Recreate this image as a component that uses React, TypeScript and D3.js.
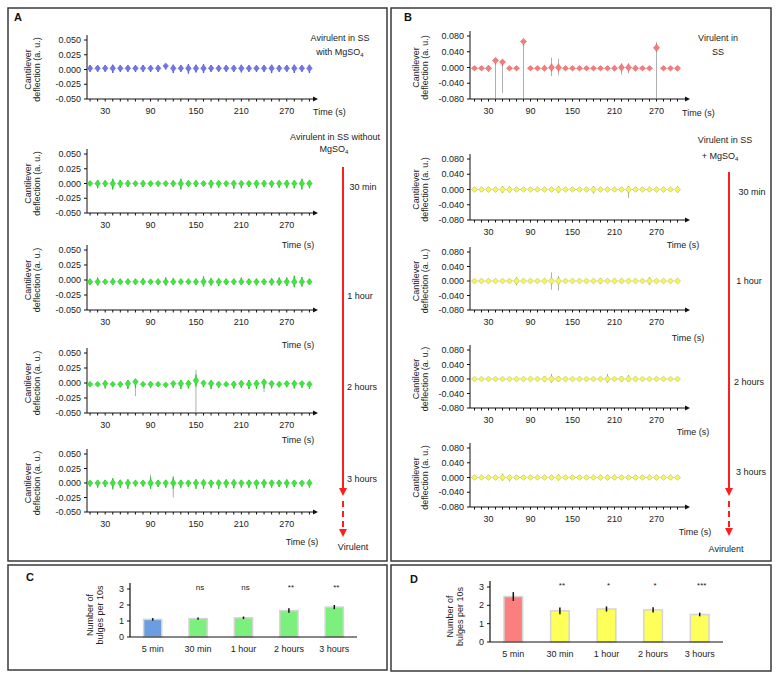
// Cantilever deflection traces (panels A, B) and bulge-rate bar charts (C, D).
import React from "react";
import * as d3 from "d3";

const FONT = "'Liberation Sans', Arial, sans-serif";

const TIMES = [10, 20, 30, 40, 50, 60, 70, 80, 90, 100, 110, 120, 130, 140, 150, 160, 170, 180, 190, 200, 210, 220, 230, 240, 250, 260, 270, 280, 290, 300];
const TIME_TICKS = [30, 90, 150, 210, 270];
// deflection values below are in 10^-3 a.u.
const A_Y_TICKS = [-50, -25, 0, 25, 50];
const B_Y_TICKS = [-80, -40, 0, 40, 80];

// Panel A: avirulent
const A1_MID = [2, 2, 2, 2, 2, 2, 2, 2, 2, 2, 6, 2, 2, 2, 2, 2, 2, 2, 2, 2, 2, 2, 2, 2, 2, 2, 2, 2, 2, 2];
const A1_HI = [7, 7, 7, 8, 7, 7, 7, 7, 7, 7, 9, 8, 7, 9, 8, 9, 7, 7, 7, 7, 8, 7, 7, 7, 8, 7, 7, 8, 7, 8];
const A1_LO = [-4, -4, -4, -6, -4, -4, -4, -4, -4, -4, 0, -6, -4, -7, -5, -6, -4, -4, -4, -4, -5, -4, -4, -4, -6, -4, -4, -6, -4, -6];

const A2_MID = [0, 0, 0, 0, 0, 0, 0, 0, 0, 0, 0, 0, 0, 0, 0, 0, 0, 0, 0, 0, 0, 0, 0, 0, 0, 0, 0, 0, 0, 0];
const A2_HI = [4, 6, 5, 8, 6, 5, 4, 5, 4, 4, 4, 5, 8, 5, 5, 4, 6, 5, 4, 5, 4, 4, 6, 5, 5, 5, 6, 5, 8, 6];
const A2_LO = [-4, -8, -6, -10, -7, -6, -5, -6, -5, -5, -5, -6, -10, -6, -6, -5, -8, -7, -5, -9, -8, -6, -8, -6, -7, -7, -8, -8, -10, -8];

const A3_MID = [-3, -3, -3, -3, -3, -3, -3, -3, -3, -3, -3, -3, -3, -3, -3, -3, -3, -3, -3, -3, -3, -3, -3, -3, -3, -3, -3, -3, -3, -3];
const A3_HI = [2, 4, 1, 3, 2, 2, 2, 3, 1, 2, 4, 3, 2, 2, 2, 6, 3, 3, 2, 2, 4, 2, 2, 2, 3, 4, 4, 7, 5, 2];
const A3_LO = [-8, -9, -7, -8, -7, -7, -8, -8, -7, -8, -9, -8, -7, -7, -8, -11, -9, -10, -8, -8, -8, -8, -9, -8, -9, -9, -10, -12, -11, -8];

const A4_MID = [-2, -2, -1, -2, -2, -1, 2, -2, -2, -2, -3, -1, -1, -1, 4, 0, -1, -2, -2, -2, -1, -2, -1, 1, -1, -2, -1, -1, -1, -2];
const A4_HI = [1, 1, 4, 1, 2, 5, 5, 1, 2, 1, 0, 3, 5, 5, 22, 3, 4, 2, 1, 3, 4, 5, 5, 6, 3, 2, 3, 4, 3, 2];
const A4_LO = [-6, -6, -9, -6, -7, -10, -22, -6, -8, -6, -7, -8, -10, -9, -50, -7, -10, -8, -6, -9, -8, -10, -10, -15, -9, -7, -7, -9, -8, -10];

const A5_MID = [0, 0, 0, 0, 0, 0, 0, 0, 0, 0, 0, 0, 0, 0, 0, 0, 0, 0, 0, 0, 0, 0, 0, 0, 0, 0, 0, 0, 0, 0];
const A5_HI = [4, 4, 5, 8, 5, 6, 4, 4, 14, 5, 5, 12, 5, 5, 6, 6, 5, 5, 6, 6, 5, 5, 5, 6, 5, 5, 6, 5, 4, 6];
const A5_LO = [-6, -8, -7, -12, -8, -10, -6, -6, -10, -7, -8, -25, -8, -7, -10, -10, -8, -10, -8, -9, -8, -8, -10, -8, -8, -7, -8, -7, -6, -8];

// Panel B: virulent
const B1_MID = [-2, -2, -2, 18, 14, -2, -2, 66, -2, -2, -2, 0, 0, -2, -2, -2, -2, -2, -2, -2, -2, 0, 0, -2, -2, -2, 50, -2, -2, -2];
const B1_HI = [2, 2, 5, 22, 17, 2, 2, 70, 2, 3, 5, 25, 22, 2, 3, 3, 2, 2, 2, 2, 5, 10, 10, 5, 2, 2, 65, 2, 3, 4];
const B1_LO = [-5, -5, -10, -80, -65, -6, -5, -80, -5, -6, -8, -22, -20, -5, -6, -6, -5, -5, -5, -5, -8, -18, -15, -8, -5, -5, -80, -5, -6, -8];

const B2_MID = [0, 0, 0, 0, 0, 0, 0, 0, 0, 0, 0, 0, 0, 0, 0, 0, 0, 0, 0, 0, 0, 0, 0, 0, 0, 0, 0, 0, 0, 0];
const B2_HI = [4, 6, 6, 6, 9, 8, 5, 4, 4, 4, 4, 5, 8, 4, 4, 4, 5, 9, 5, 4, 4, 5, 9, 5, 4, 4, 5, 6, 4, 8];
const B2_LO = [-4, -6, -6, -6, -9, -8, -5, -4, -4, -4, -4, -5, -9, -4, -4, -4, -5, -10, -5, -4, -4, -5, -22, -5, -4, -4, -5, -6, -4, -8];

const B3_MID = [0, 0, 0, 0, 0, 0, 0, 0, 0, 0, 0, 0, 0, 0, 0, 0, 0, 0, 0, 0, 0, 0, 0, 0, 0, 0, 0, 0, 0, 0];
const B3_HI = [4, 4, 4, 4, 5, 4, 10, 4, 5, 4, 6, 24, 14, 4, 4, 4, 5, 5, 8, 4, 6, 6, 6, 5, 4, 10, 5, 5, 5, 6];
const B3_LO = [-4, -4, -4, -4, -5, -4, -12, -4, -6, -4, -6, -24, -26, -4, -4, -4, -5, -5, -8, -4, -6, -6, -6, -5, -4, -10, -5, -5, -5, -6];

const B4_MID = [0, 0, 0, 0, 0, 0, 0, 0, 0, 0, 0, 0, 0, 0, 0, 0, 0, 0, 0, 0, 0, 0, 0, 0, 0, 0, 0, 0, 0, 0];
const B4_HI = [3, 3, 3, 3, 3, 3, 4, 4, 6, 4, 8, 14, 8, 6, 5, 5, 4, 4, 4, 14, 3, 8, 10, 6, 4, 4, 4, 4, 3, 4];
const B4_LO = [-3, -3, -3, -3, -3, -3, -4, -4, -6, -4, -8, -10, -8, -6, -5, -4, -4, -4, -4, -10, -3, -8, -8, -6, -4, -4, -4, -4, -3, -4];

const B5_MID = [0, 0, 0, 0, 0, 0, 0, 0, 0, 0, 0, 0, 0, 0, 0, 0, 0, 0, 0, 0, 0, 0, 0, 0, 0, 0, 0, 0, 0, 0];
const B5_HI = [4, 4, 5, 4, 10, 6, 4, 4, 4, 4, 4, 4, 8, 4, 4, 4, 4, 4, 5, 6, 5, 4, 4, 6, 4, 5, 6, 4, 5, 4];
const B5_LO = [-4, -4, -5, -4, -8, -10, -4, -4, -4, -4, -4, -4, -8, -4, -4, -4, -4, -4, -5, -6, -5, -4, -4, -6, -4, -5, -6, -4, -5, -4];

// Panels C, D: number of bulges per 10 s
const CATEGORIES = ["5 min", "30 min", "1 hour", "2 hours", "3 hours"];
const C_MEANS = [1.1, 1.15, 1.2, 1.65, 1.87];
const C_ERR = [0.08, 0.07, 0.08, 0.14, 0.13];
const C_SIG = ["", "ns", "ns", "**", "**"];
const D_MEANS = [2.48, 1.7, 1.8, 1.75, 1.5];
const D_ERR = [0.24, 0.18, 0.14, 0.14, 0.1];
const D_SIG = ["", "**", "*", "*", "***"];
const BAR_Y_TICKS = [0, 1, 2, 3];

const GREEN = "#3fe63f";
const YELLOW = "#f6f65a";

const A_TRACES = [
  { mid: A1_MID, hi: A1_HI, lo: A1_LO, top: 40, bottom: 99, color: "#7474e8", edge: "#5a5ad0", time: { x: 313, y: 115, anchor: "start" } },
  { mid: A2_MID, hi: A2_HI, lo: A2_LO, top: 154, bottom: 213, color: GREEN, edge: "#2bc42b", time: { x: 298, y: 248, anchor: "middle" } },
  { mid: A3_MID, hi: A3_HI, lo: A3_LO, top: 250, bottom: 310, color: GREEN, edge: "#2bc42b", time: { x: 298, y: 348, anchor: "middle" } },
  { mid: A4_MID, hi: A4_HI, lo: A4_LO, top: 353, bottom: 413, color: GREEN, edge: "#2bc42b", time: { x: 298, y: 443, anchor: "middle" } },
  { mid: A5_MID, hi: A5_HI, lo: A5_LO, top: 454, bottom: 512, color: GREEN, edge: "#2bc42b", time: { x: 302, y: 545, anchor: "middle" } },
];

const B_TRACES = [
  { mid: B1_MID, hi: B1_HI, lo: B1_LO, top: 36, bottom: 99, color: "#f47c7c", edge: "#e06060", time: { x: 682, y: 116, anchor: "start" } },
  { mid: B2_MID, hi: B2_HI, lo: B2_LO, top: 159, bottom: 220, color: YELLOW, edge: "#b0b050", time: { x: 683, y: 248, anchor: "middle" } },
  { mid: B3_MID, hi: B3_HI, lo: B3_LO, top: 252, bottom: 310, color: YELLOW, edge: "#b0b050", time: { x: 688, y: 341, anchor: "middle" } },
  { mid: B4_MID, hi: B4_HI, lo: B4_LO, top: 350, bottom: 408, color: YELLOW, edge: "#b0b050", time: { x: 693, y: 435, anchor: "middle" } },
  { mid: B5_MID, hi: B5_HI, lo: B5_LO, top: 448, bottom: 507, color: YELLOW, edge: "#b0b050", time: { x: 695, y: 535, anchor: "middle" } },
];

const A_AXES = { axisX: 87, axisEnd: 318, xRange: [82.5, 317], yMax: 50, yTicks: A_Y_TICKS, labelX: [31, 40], blobW: 2.8 };
const B_AXES = { axisX: 470, axisEnd: 690, xRange: [467.5, 684.5], yMax: 80, yTicks: B_Y_TICKS, labelX: [419, 428], blobW: 3.1 };

const fmtDefl = (v) => (v / 1000).toFixed(3);

function Trace({ tr, ax }) {
  const x = d3.scaleLinear().domain([0, 310]).range(ax.xRange);
  const y = d3.scaleLinear().domain([-ax.yMax, ax.yMax]).range([tr.bottom, tr.top]);
  const cy = (tr.top + tr.bottom) / 2;
  return (
    <g fontFamily={FONT} fontSize={9} fill="#222">
      {/* y axis */}
      <line x1={ax.axisX} x2={ax.axisX} y1={tr.top - 5} y2={tr.bottom} stroke="#111" strokeWidth={1} />
      {ax.yTicks.map((v) => (
        <g key={v}>
          <line x1={ax.axisX - 3} x2={ax.axisX} y1={y(v)} y2={y(v)} stroke="#111" />
          <text x={ax.axisX - 6} y={y(v) + 3} textAnchor="end">{fmtDefl(v)}</text>
        </g>
      ))}
      {/* x axis */}
      <line x1={ax.axisX} x2={ax.axisEnd - 3} y1={tr.bottom} y2={tr.bottom} stroke="#111" strokeWidth={1} />
      <path d={`M${ax.axisEnd},${tr.bottom} l-5,-2.5 l0,5 Z`} fill="#111" />
      {TIMES.map((t) => (
        <line key={t} x1={x(t)} x2={x(t)} y1={tr.bottom} y2={tr.bottom + 2.5} stroke="#111" />
      ))}
      {TIME_TICKS.map((t) => (
        <text key={t} x={x(t)} y={tr.bottom + 15} textAnchor="middle">{t}</text>
      ))}
      <text x={tr.time.x} y={tr.time.y} textAnchor={tr.time.anchor}>Time (s)</text>
      {/* y label */}
      <text transform={`translate(${ax.labelX[0]},${cy}) rotate(-90)`} textAnchor="middle">Cantilever</text>
      <text transform={`translate(${ax.labelX[1]},${cy}) rotate(-90)`} textAnchor="middle">deflection (a. u.)</text>
      {/* bulges */}
      {TIMES.map((t, i) => {
        const m = tr.mid[i];
        const px = x(t);
        const yHi = y(tr.hi[i]);
        const yLo = y(tr.lo[i]);
        const ym = y(m);
        const core = Math.min(Math.max(m - 10, tr.lo[i]), m);
        const coreTop = Math.max(Math.min(m + 10, tr.hi[i]), m);
        const ry = Math.min(4.6, 2.3 + (y(core) - y(coreTop)) * 0.14);
        const w = ax.blobW;
        return (
          <g key={t}>
            <line x1={px} x2={px} y1={yHi} y2={yLo} stroke="#8a8a8a" strokeWidth={0.8} opacity={0.85} />
            <line x1={px} x2={px} y1={y(coreTop)} y2={y(core)} stroke={tr.edge} strokeWidth={1.3} />
            <path d={`M${px},${ym - ry} L${px + w},${ym} L${px},${ym + ry} L${px - w},${ym} Z`} fill={tr.color} stroke={tr.edge} strokeWidth={0.5} />
          </g>
        );
      })}
    </g>
  );
}

function BarChart({ means, err, sig, colors, axisX, axisEnd, y0, y3, labelX, letter, letterPos }) {
  const x = d3.scaleBand().domain(CATEGORIES).range([axisX, axisEnd]).paddingInner(0.6).paddingOuter(0.3);
  const y = d3.scaleLinear().domain([0, 3]).range([y0, y3]);
  const cy = (y0 + y3) / 2 + 2;
  return (
    <g fontFamily={FONT} fontSize={9} fill="#222">
      <text x={letterPos[0]} y={letterPos[1]} fontSize={11} fontWeight="bold" fill="#111">{letter}</text>
      {CATEGORIES.map((c, i) => (
        <g key={c}>
          <rect x={x(c)} y={y(means[i])} width={x.bandwidth()} height={y0 - y(means[i])} fill={colors[i]} stroke="#d4d4d4" strokeWidth={1.5} />
          <line x1={x(c) + x.bandwidth() / 2} x2={x(c) + x.bandwidth() / 2} y1={y(means[i] + err[i])} y2={y(means[i] - err[i])} stroke="#111" strokeWidth={1.5} />
          <text x={x(c) + x.bandwidth() / 2} y={y0 + 15} textAnchor="middle">{c}</text>
          {sig[i] && <text x={x(c) + x.bandwidth() / 2 + 2} y={y3 + 1} textAnchor="middle" fontSize={8}>{sig[i]}</text>}
        </g>
      ))}
      <line x1={axisX} x2={axisX} y1={y3 - 6} y2={y0} stroke="#111" strokeWidth={1.2} />
      <line x1={axisX} x2={axisEnd} y1={y0} y2={y0} stroke="#111" strokeWidth={1.2} />
      {BAR_Y_TICKS.map((v) => (
        <g key={v}>
          <line x1={axisX - 3} x2={axisX} y1={y(v)} y2={y(v)} stroke="#111" />
          <text x={axisX - 6} y={y(v) + 3} textAnchor="end">{v}</text>
        </g>
      ))}
      <text transform={`translate(${labelX[0]},${cy}) rotate(-90)`} textAnchor="middle">Number of</text>
      <text transform={`translate(${labelX[1]},${cy}) rotate(-90)`} textAnchor="middle">bulges per 10s</text>
    </g>
  );
}

function Arrow({ x, y1, y2, y3 }) {
  const c = "#ff1e1e";
  return (
    <g>
      <line x1={x} x2={x} y1={y1} y2={y2 - 7} stroke={c} strokeWidth={2} />
      <path d={`M${x},${y2} l-4,-8 l8,0 Z`} fill={c} />
      <line x1={x} x2={x} y1={y2 + 5} y2={y3 - 7} stroke={c} strokeWidth={2} strokeDasharray="6 4" />
      <path d={`M${x},${y3} l-4,-8 l8,0 Z`} fill={c} />
    </g>
  );
}

function Label({ x, y, children, anchor = "middle", size = 9 }) {
  return (
    <text x={x} y={y} textAnchor={anchor} fontFamily={FONT} fontSize={size} fill="#222">{children}</text>
  );
}

const Mg = () => (
  <>MgSO<tspan fontSize={6} dy={2}>4</tspan></>
);

export default function App() {
  return (
    <div>
      <style>{`body{margin:0}`}</style>
      <svg width={779} height={678} style={{ display: "block", background: "#fff" }}>
        {/* panel frames */}
        <rect x={8} y={8} width={379} height={553} fill="none" stroke="#3a3a3a" strokeWidth={1.5} />
        <rect x={391} y={8} width={380} height={553} fill="none" stroke="#3a3a3a" strokeWidth={1.5} />
        <rect x={8} y={565} width={379} height={105} fill="none" stroke="#3a3a3a" strokeWidth={1.5} />
        <rect x={391} y={565} width={380} height={106} fill="none" stroke="#3a3a3a" strokeWidth={1.5} />

        <text x={14} y={21} fontFamily={FONT} fontSize={11} fontWeight="bold" fill="#111">A</text>
        <text x={404} y={21} fontFamily={FONT} fontSize={11} fontWeight="bold" fill="#111">B</text>

        {A_TRACES.map((tr, i) => <Trace key={"a" + i} tr={tr} ax={A_AXES} />)}
        {B_TRACES.map((tr, i) => <Trace key={"b" + i} tr={tr} ax={B_AXES} />)}

        {/* panel A annotations */}
        <Label x={340} y={41}>Avirulent in SS</Label>
        <Label x={340} y={55}>with <Mg /></Label>
        <Label x={335} y={140}>Avirulent in SS without</Label>
        <Label x={334} y={152}><Mg /></Label>
        <Label x={363} y={190}>30 min</Label>
        <Label x={360} y={299}>1 hour</Label>
        <Label x={362} y={390}>2 hours</Label>
        <Label x={362} y={482}>3 hours</Label>
        <Label x={353} y={550}>Virulent</Label>
        <Arrow x={343} y1={167} y2={496} y3={537} />

        {/* panel B annotations */}
        <Label x={718} y={41}>Virulent in</Label>
        <Label x={718} y={55}>SS</Label>
        <Label x={725} y={143}>Virulent in SS</Label>
        <Label x={720} y={159}>+ <Mg /></Label>
        <Label x={752} y={195}>30 min</Label>
        <Label x={749} y={284}>1 hour</Label>
        <Label x={749} y={385}>2 hours</Label>
        <Label x={751} y={475}>3 hours</Label>
        <Label x={726} y={552}>Avirulent</Label>
        <Arrow x={729} y1={172} y2={496} y3={536} />

        <BarChart means={C_MEANS} err={C_ERR} sig={C_SIG}
          colors={["#6a9ee0", "#7cf07c", "#7cf07c", "#7cf07c", "#7cf07c"]}
          axisX={130} axisEnd={357} y0={637} y3={589} labelX={[93, 103]}
          letter="C" letterPos={[26, 581]} />
        <BarChart means={D_MEANS} err={D_ERR} sig={D_SIG}
          colors={["#fb7f7f", "#ffff5a", "#ffff5a", "#ffff5a", "#ffff5a"]}
          axisX={490} axisEnd={723} y0={642} y3={587} labelX={[453, 463]}
          letter="D" letterPos={[410, 583]} />
      </svg>
    </div>
  );
}
